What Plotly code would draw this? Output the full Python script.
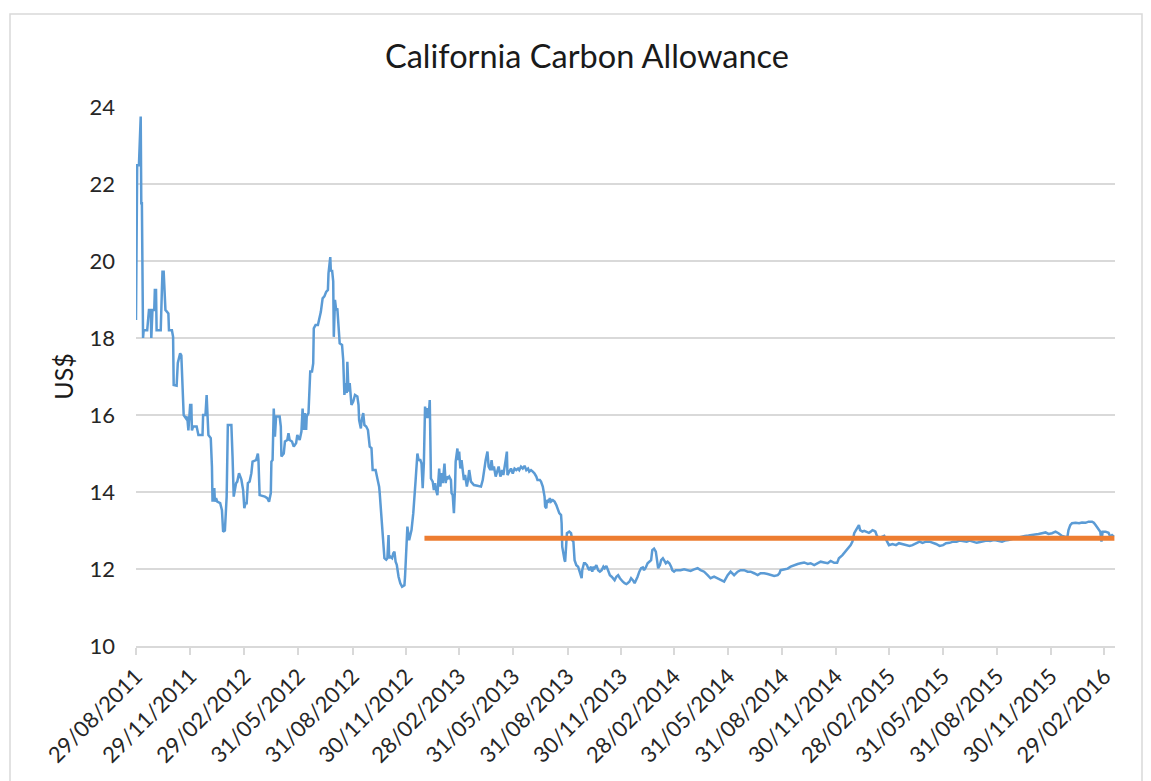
import plotly.graph_objects as go

# ---- data ----
dates = [
    "2011-08-29", "2011-08-30", "2011-08-31", "2011-09-03", "2011-09-06", "2011-09-07", "2011-09-08",
    "2011-09-10", "2011-09-11", "2011-09-17", "2011-09-20", "2011-09-23", "2011-09-24", "2011-09-26",
    "2011-09-29", "2011-09-30", "2011-10-02", "2011-10-03", "2011-10-10", "2011-10-12", "2011-10-13",
    "2011-10-15", "2011-10-17", "2011-10-18", "2011-10-23", "2011-10-24", "2011-10-29", "2011-10-31",
    "2011-11-01", "2011-11-06", "2011-11-08", "2011-11-12", "2011-11-14", "2011-11-16", "2011-11-18",
    "2011-11-22", "2011-11-24", "2011-11-26", "2011-11-29", "2011-12-01", "2011-12-02", "2011-12-04",
    "2011-12-10", "2011-12-13", "2011-12-20", "2011-12-21", "2011-12-25", "2011-12-27", "2011-12-28",
    "2011-12-30", "2012-01-03", "2012-01-05", "2012-01-06", "2012-01-09", "2012-01-10", "2012-01-12",
    "2012-01-14", "2012-01-19", "2012-01-22", "2012-01-24", "2012-01-27", "2012-01-30", "2012-02-01",
    "2012-02-07", "2012-02-09", "2012-02-11", "2012-02-15", "2012-02-17", "2012-02-20", "2012-02-24",
    "2012-02-27", "2012-02-29", "2012-03-02", "2012-03-04", "2012-03-06", "2012-03-09", "2012-03-12",
    "2012-03-14", "2012-03-20", "2012-03-23", "2012-03-24", "2012-03-26", "2012-04-04", "2012-04-08",
    "2012-04-11", "2012-04-14", "2012-04-15", "2012-04-17", "2012-04-19", "2012-04-21", "2012-04-23",
    "2012-04-29", "2012-05-01", "2012-05-02", "2012-05-06", "2012-05-08", "2012-05-12", "2012-05-14",
    "2012-05-16", "2012-05-20", "2012-05-23", "2012-05-27", "2012-05-29", "2012-06-02", "2012-06-05",
    "2012-06-07", "2012-06-09", "2012-06-11", "2012-06-13", "2012-06-14", "2012-06-17", "2012-06-19",
    "2012-06-20", "2012-06-23", "2012-06-25", "2012-06-26", "2012-06-29", "2012-07-03", "2012-07-05",
    "2012-07-08", "2012-07-11", "2012-07-14", "2012-07-17", "2012-07-20", "2012-07-21", "2012-07-24",
    "2012-07-25", "2012-07-27", "2012-07-29", "2012-07-30", "2012-08-01", "2012-08-03", "2012-08-05",
    "2012-08-08", "2012-08-09", "2012-08-13", "2012-08-15", "2012-08-17", "2012-08-19", "2012-08-21",
    "2012-08-22", "2012-08-24", "2012-08-26", "2012-08-29", "2012-09-01", "2012-09-04", "2012-09-08",
    "2012-09-10", "2012-09-11", "2012-09-14", "2012-09-15", "2012-09-18", "2012-09-20", "2012-09-23",
    "2012-09-26", "2012-09-29", "2012-10-02", "2012-10-04", "2012-10-09", "2012-10-12", "2012-10-15",
    "2012-10-16", "2012-10-19", "2012-10-22", "2012-10-24", "2012-10-27", "2012-10-29", "2012-10-31",
    "2012-11-01", "2012-11-03", "2012-11-06", "2012-11-08", "2012-11-10", "2012-11-12", "2012-11-14",
    "2012-11-17", "2012-11-20", "2012-11-23", "2012-11-27", "2012-11-28", "2012-11-30", "2012-12-02",
    "2012-12-05", "2012-12-07", "2012-12-09", "2012-12-12", "2012-12-14", "2012-12-16", "2012-12-19",
    "2012-12-21", "2012-12-24", "2012-12-26", "2012-12-28", "2012-12-30", "2013-01-01", "2013-01-03",
    "2013-01-05", "2013-01-07", "2013-01-09", "2013-01-10", "2013-01-11", "2013-01-14", "2013-01-16",
    "2013-01-18", "2013-01-19", "2013-01-22", "2013-01-23", "2013-01-25", "2013-01-27", "2013-01-29",
    "2013-01-31", "2013-02-03", "2013-02-05", "2013-02-07", "2013-02-09", "2013-02-11", "2013-02-14",
    "2013-02-15", "2013-02-17", "2013-02-19", "2013-02-21", "2013-02-22", "2013-02-25", "2013-02-26",
    "2013-02-28", "2013-03-02", "2013-03-04", "2013-03-06", "2013-03-08", "2013-03-10", "2013-03-13",
    "2013-03-15", "2013-03-17", "2013-03-20", "2013-03-23", "2013-03-25", "2013-03-31", "2013-04-06",
    "2013-04-09", "2013-04-11", "2013-04-14", "2013-04-17", "2013-04-19", "2013-04-22", "2013-04-24",
    "2013-04-26", "2013-04-28", "2013-05-01", "2013-05-04", "2013-05-06", "2013-05-09", "2013-05-12",
    "2013-05-14", "2013-05-16", "2013-05-18", "2013-05-20", "2013-05-21", "2013-05-24", "2013-05-27",
    "2013-05-30", "2013-06-02", "2013-06-05", "2013-06-08", "2013-06-10", "2013-06-13", "2013-06-16",
    "2013-06-19", "2013-06-22", "2013-06-25", "2013-06-27", "2013-06-30", "2013-07-03", "2013-07-06",
    "2013-07-09", "2013-07-11", "2013-07-15", "2013-07-17", "2013-07-20", "2013-07-22", "2013-07-23",
    "2013-07-24", "2013-07-26", "2013-07-27", "2013-07-30", "2013-08-01", "2013-08-03", "2013-08-06",
    "2013-08-09", "2013-08-12", "2013-08-15", "2013-08-17", "2013-08-20", "2013-08-21", "2013-08-22",
    "2013-08-24", "2013-08-26", "2013-08-27", "2013-08-29", "2013-08-30", "2013-09-03", "2013-09-06",
    "2013-09-08", "2013-09-10", "2013-09-12", "2013-09-15", "2013-09-18", "2013-09-21", "2013-09-24",
    "2013-09-25", "2013-09-28", "2013-09-30", "2013-10-03", "2013-10-05", "2013-10-07", "2013-10-10",
    "2013-10-12", "2013-10-14", "2013-10-16", "2013-10-19", "2013-10-22", "2013-10-25", "2013-10-28",
    "2013-10-31", "2013-11-02", "2013-11-05", "2013-11-08", "2013-11-11", "2013-11-14", "2013-11-16",
    "2013-11-19", "2013-11-22", "2013-11-25", "2013-11-28", "2013-11-30", "2013-12-03", "2013-12-06",
    "2013-12-09", "2013-12-11", "2013-12-14", "2013-12-17", "2013-12-20", "2013-12-23", "2013-12-26",
    "2013-12-28", "2013-12-31", "2014-01-03", "2014-01-06", "2014-01-08", "2014-01-11", "2014-01-14",
    "2014-01-17", "2014-01-20", "2014-01-22", "2014-01-25", "2014-01-28", "2014-01-30", "2014-02-01",
    "2014-02-04", "2014-02-06", "2014-02-09", "2014-02-11", "2014-02-14", "2014-02-17", "2014-02-20",
    "2014-02-23", "2014-02-25", "2014-02-28", "2014-03-03", "2014-03-06", "2014-03-11", "2014-03-17",
    "2014-03-23", "2014-03-28", "2014-04-03", "2014-04-09", "2014-04-14", "2014-04-20", "2014-04-26",
    "2014-05-01", "2014-05-07", "2014-05-13", "2014-05-18", "2014-05-24", "2014-05-30", "2014-06-04",
    "2014-06-10", "2014-06-16", "2014-06-21", "2014-06-27", "2014-07-03", "2014-07-08", "2014-07-14",
    "2014-07-20", "2014-07-25", "2014-07-31", "2014-08-06", "2014-08-11", "2014-08-17", "2014-08-23",
    "2014-08-26", "2014-08-28", "2014-09-03", "2014-09-09", "2014-09-14", "2014-09-20", "2014-09-26",
    "2014-10-01", "2014-10-07", "2014-10-13", "2014-10-18", "2014-10-24", "2014-10-30", "2014-11-04",
    "2014-11-10", "2014-11-16", "2014-11-21", "2014-11-27", "2014-12-02", "2014-12-05", "2014-12-11",
    "2014-12-16", "2014-12-22", "2014-12-25", "2014-12-28", "2014-12-31", "2015-01-03", "2015-01-05",
    "2015-01-08", "2015-01-10", "2015-01-14", "2015-01-17", "2015-01-22", "2015-01-25", "2015-01-28",
    "2015-01-31", "2015-02-03", "2015-02-05", "2015-02-08", "2015-02-14", "2015-02-20", "2015-02-22",
    "2015-02-25", "2015-02-28", "2015-03-06", "2015-03-12", "2015-03-17", "2015-03-23", "2015-03-29",
    "2015-04-04", "2015-04-09", "2015-04-15", "2015-04-21", "2015-04-26", "2015-05-02", "2015-05-08",
    "2015-05-14", "2015-05-19", "2015-05-25", "2015-05-31", "2015-06-05", "2015-06-11", "2015-06-17",
    "2015-06-23", "2015-06-28", "2015-07-04", "2015-07-10", "2015-07-15", "2015-07-21", "2015-07-27",
    "2015-08-02", "2015-08-07", "2015-08-13", "2015-08-19", "2015-08-25", "2015-08-30", "2015-09-08",
    "2015-09-13", "2015-09-19", "2015-09-25", "2015-09-30", "2015-10-06", "2015-10-12", "2015-10-17",
    "2015-10-23", "2015-10-29", "2015-11-04", "2015-11-09", "2015-11-15", "2015-11-21", "2015-11-26",
    "2015-12-02", "2015-12-08", "2015-12-13", "2015-12-19", "2015-12-25", "2015-12-28", "2015-12-30",
    "2016-01-02", "2016-01-05", "2016-01-11", "2016-01-17", "2016-01-22", "2016-01-28", "2016-02-02",
    "2016-02-08", "2016-02-11", "2016-02-14", "2016-02-17", "2016-02-19", "2016-02-22", "2016-02-24",
    "2016-02-26", "2016-03-02", "2016-03-07", "2016-03-10", "2016-03-13", "2016-03-16",
]

prices = [
    18.47, 21.0, 22.49, 22.49, 23.75, 21.5, 21.5,
    18.0, 18.2, 18.2, 18.73, 18.73, 18.0, 18.73,
    18.73, 19.25, 19.25, 18.2, 18.2, 19.25, 19.72,
    19.72, 19.16, 18.73, 18.64, 18.2, 18.2, 18.03,
    16.78, 16.76, 17.35, 17.6, 17.55, 16.65, 16.0,
    15.91, 15.96, 15.6, 16.26, 16.26, 15.6, 15.7,
    15.7, 15.48, 15.48, 16.0, 16.0, 16.52, 16.0,
    15.48, 15.4, 14.66, 13.75, 14.1, 13.75, 13.84,
    13.75, 13.71, 13.53, 12.97, 13.0, 13.88, 15.74,
    15.74, 14.92, 13.88, 14.23, 14.27, 14.49, 14.32,
    14.05, 13.58, 13.71, 13.71, 14.23, 14.27, 14.49,
    14.79, 14.83, 15.0, 14.83, 13.92, 13.88, 13.84,
    13.75, 13.97, 14.79, 14.83, 16.17, 15.44, 15.96,
    15.96, 15.7, 14.92, 15.0, 15.31, 15.35, 15.53,
    15.35, 15.31, 15.18, 15.27, 15.48, 15.35, 15.57,
    16.17, 15.61, 16.05, 15.61, 15.96, 16.05, 16.74,
    17.13, 17.13, 17.34, 18.25, 18.34, 18.34, 18.47,
    18.68, 19.03, 19.08, 19.2, 19.25, 19.68, 20.1,
    19.73, 19.77, 19.47, 18.03, 18.99, 18.73, 18.77,
    17.99, 17.86, 17.82, 17.43, 16.52, 16.83, 16.57,
    17.38, 16.61, 16.83, 16.26, 16.35, 16.52, 16.48,
    16.26, 15.87, 15.65, 15.83, 16.05, 15.74, 15.7,
    15.61, 15.18, 15.14, 14.57, 14.57, 14.35, 14.14,
    13.97, 13.27, 12.75, 12.28, 12.24, 12.28, 12.88,
    12.28, 12.32, 12.28, 12.41, 12.45, 12.19, 12.11,
    11.8, 11.63, 11.54, 11.58, 11.8, 12.41, 13.1,
    12.75, 12.93, 13.01, 13.45, 14.05, 14.31, 15.0,
    14.83, 14.83, 14.74, 14.1, 14.74, 16.22, 15.92,
    16.18, 15.92, 16.39, 15.09, 14.35, 14.27, 14.05,
    14.23, 14.1, 13.92, 14.23, 14.61, 14.14, 14.49,
    14.23, 14.74, 14.23, 14.4, 14.36, 14.4, 14.31,
    13.97, 13.92, 13.45, 14.14, 14.79, 15.13, 14.83,
    15.05, 14.61, 14.83, 14.57, 14.31, 14.44, 14.14,
    14.31, 14.57, 14.27, 14.23, 14.18, 14.16, 14.14,
    14.31, 14.57, 14.83, 15.05, 14.66, 14.57, 14.83,
    14.57, 14.66, 14.4, 14.53, 14.66, 14.4, 14.57,
    14.44, 14.7, 14.83, 15.05, 14.44, 14.53, 14.61,
    14.48, 14.61, 14.57, 14.61, 14.57, 14.66, 14.61,
    14.68, 14.57, 14.61, 14.53, 14.57, 14.53, 14.48,
    14.4, 14.31, 14.31, 14.27, 14.14, 13.97, 13.88,
    13.62, 13.58, 13.79, 13.75, 13.84, 13.75, 13.79,
    13.75, 13.66, 13.49, 13.45, 13.4, 13.19, 12.58,
    12.36, 12.23, 12.19, 12.58, 12.93, 12.97, 12.93,
    12.75, 12.71, 12.23, 12.1, 12.06, 11.89, 11.76,
    11.97, 12.15, 12.15, 12.1, 12.02, 11.97, 12.06,
    11.93, 12.06, 12.02, 12.1, 11.97, 11.93, 11.97,
    12.06, 12.02, 12.08, 11.97, 11.84, 11.8, 11.76,
    11.71, 11.8, 11.84, 11.76, 11.71, 11.67, 11.63,
    11.61, 11.63, 11.67, 11.76, 11.71, 11.63, 11.71,
    11.8, 11.93, 12.02, 12.04, 11.97, 12.04, 12.15,
    12.19, 12.23, 12.49, 12.53, 12.45, 12.19, 12.02,
    12.1, 12.23, 12.28, 12.23, 12.15, 12.19, 12.15,
    12.06, 11.97, 11.93, 11.97, 11.97, 11.97, 11.99,
    11.97, 11.95, 11.99, 12.02, 11.97, 11.93, 11.84,
    11.76, 11.8, 11.76, 11.71, 11.67, 11.84, 11.93,
    11.84, 11.93, 11.97, 11.97, 11.93, 11.93, 11.89,
    11.84, 11.89, 11.89, 11.87, 11.84, 11.82, 11.84,
    11.89, 11.97, 11.99, 12.01, 12.06, 12.1, 12.13,
    12.15, 12.17, 12.13, 12.15, 12.1, 12.15, 12.19,
    12.17, 12.15, 12.21, 12.16, 12.16, 12.28, 12.36,
    12.45, 12.54, 12.62, 12.71, 12.93, 13.01, 13.06,
    13.14, 13.01, 12.97, 12.99, 12.97, 12.94, 12.97,
    13.01, 12.99, 12.97, 12.84, 12.82, 12.86, 12.8,
    12.71, 12.62, 12.65, 12.62, 12.67, 12.65, 12.62,
    12.6, 12.62, 12.67, 12.71, 12.68, 12.71, 12.71,
    12.68, 12.65, 12.6, 12.62, 12.67, 12.68, 12.71,
    12.71, 12.74, 12.73, 12.71, 12.74, 12.71, 12.68,
    12.7, 12.71, 12.74, 12.73, 12.75, 12.74, 12.71,
    12.74, 12.75, 12.78, 12.8, 12.82, 12.86, 12.86,
    12.87, 12.88, 12.9, 12.91, 12.93, 12.95, 12.91,
    12.93, 12.97, 12.93, 12.86, 12.84, 12.82, 13.01,
    13.14, 13.19, 13.2, 13.19, 13.21, 13.2, 13.23,
    13.23, 13.2, 13.14, 13.08, 13.01, 12.97, 12.71,
    12.97, 12.97, 12.94, 12.84, 12.88, 12.84,
]

assert len(dates) == len(prices), (len(dates), len(prices))

reference_dates = ["2012-12-31", "2016-03-17"]
reference_level = [12.8, 12.8]

tick_dates = [
    "2011-08-29", "2011-11-29", "2012-02-29", "2012-05-31", "2012-08-31", "2012-11-30",
    "2013-02-28", "2013-05-31", "2013-08-31", "2013-11-30", "2014-02-28", "2014-05-31",
    "2014-08-31", "2014-11-30", "2015-02-28", "2015-05-31", "2015-08-31", "2015-11-30",
    "2016-02-29",
]
tick_labels = ["/".join(reversed(d.split("-"))) for d in tick_dates]

x_range = ["2011-08-29", "2016-03-18"]
y_ticks = [10, 12, 14, 16, 18, 20, 22, 24]

FONT = "Lato"
TEXT = "#262626"

# page body has an 8px margin, so the figure is made 8px smaller
W, H = 1143, 773
ML, MT, MR, MB = 128, 99, 36, 135
PW, PH = W - ML - MR, H - MT - MB

fig = go.Figure()
fig.add_trace(go.Scatter(
    x=dates, y=prices, mode="lines",
    line=dict(color="#5B9BD5", width=2.5),
    showlegend=False, hoverinfo="x+y",
))
fig.add_trace(go.Scatter(
    x=reference_dates, y=reference_level, mode="lines",
    line=dict(color="#ED7D31", width=5),
    showlegend=False,
))

fig.update_layout(
    width=W, height=H,
    margin=dict(l=ML, r=MR, t=MT, b=MB),
    paper_bgcolor="white", plot_bgcolor="white",
    font=dict(family=FONT, color=TEXT),
    title=dict(
        text="California Carbon Allowance",
        x=(579 - ML) / PW, xref="paper", xanchor="center",
        y=1 - 49 / H, yref="container", yanchor="middle",
        font=dict(size=32.5, family=FONT, color="#1a1a1a"),
    ),
    xaxis=dict(
        type="date", range=x_range,
        tickmode="array", tickvals=tick_dates, ticktext=tick_labels,
        tickangle=-45, tickfont=dict(size=22, family=FONT, color=TEXT),
        showgrid=False, zeroline=False,
        showline=True, linecolor="#D9D9D9", linewidth=1.5,
        ticks="outside", ticklen=7, tickcolor="#D9D9D9", tickwidth=1.5,
    ),
    yaxis=dict(
        range=[10, 24], tickmode="array", tickvals=y_ticks,
        tickfont=dict(size=22, family=FONT, color=TEXT),
        showgrid=True, gridcolor="#D9D9D9", gridwidth=1.5,
        zeroline=False, showline=False, ticks="", ticklabelstandoff=20,
        title=dict(text="US$", font=dict(size=25, family=FONT, color="#1a1a1a"), standoff=8),
    ),
    shapes=[dict(
        type="rect", xref="paper", yref="paper",
        x0=(2 - ML) / PW, x1=(1134 - ML) / PW,
        y0=-(MB + 20) / PH, y1=1 + (MT - 6) / PH,
        line=dict(color="#D9D9D9", width=1.5), fillcolor="rgba(0,0,0,0)", layer="below",
    )],
)

fig.write_html("out.html")
